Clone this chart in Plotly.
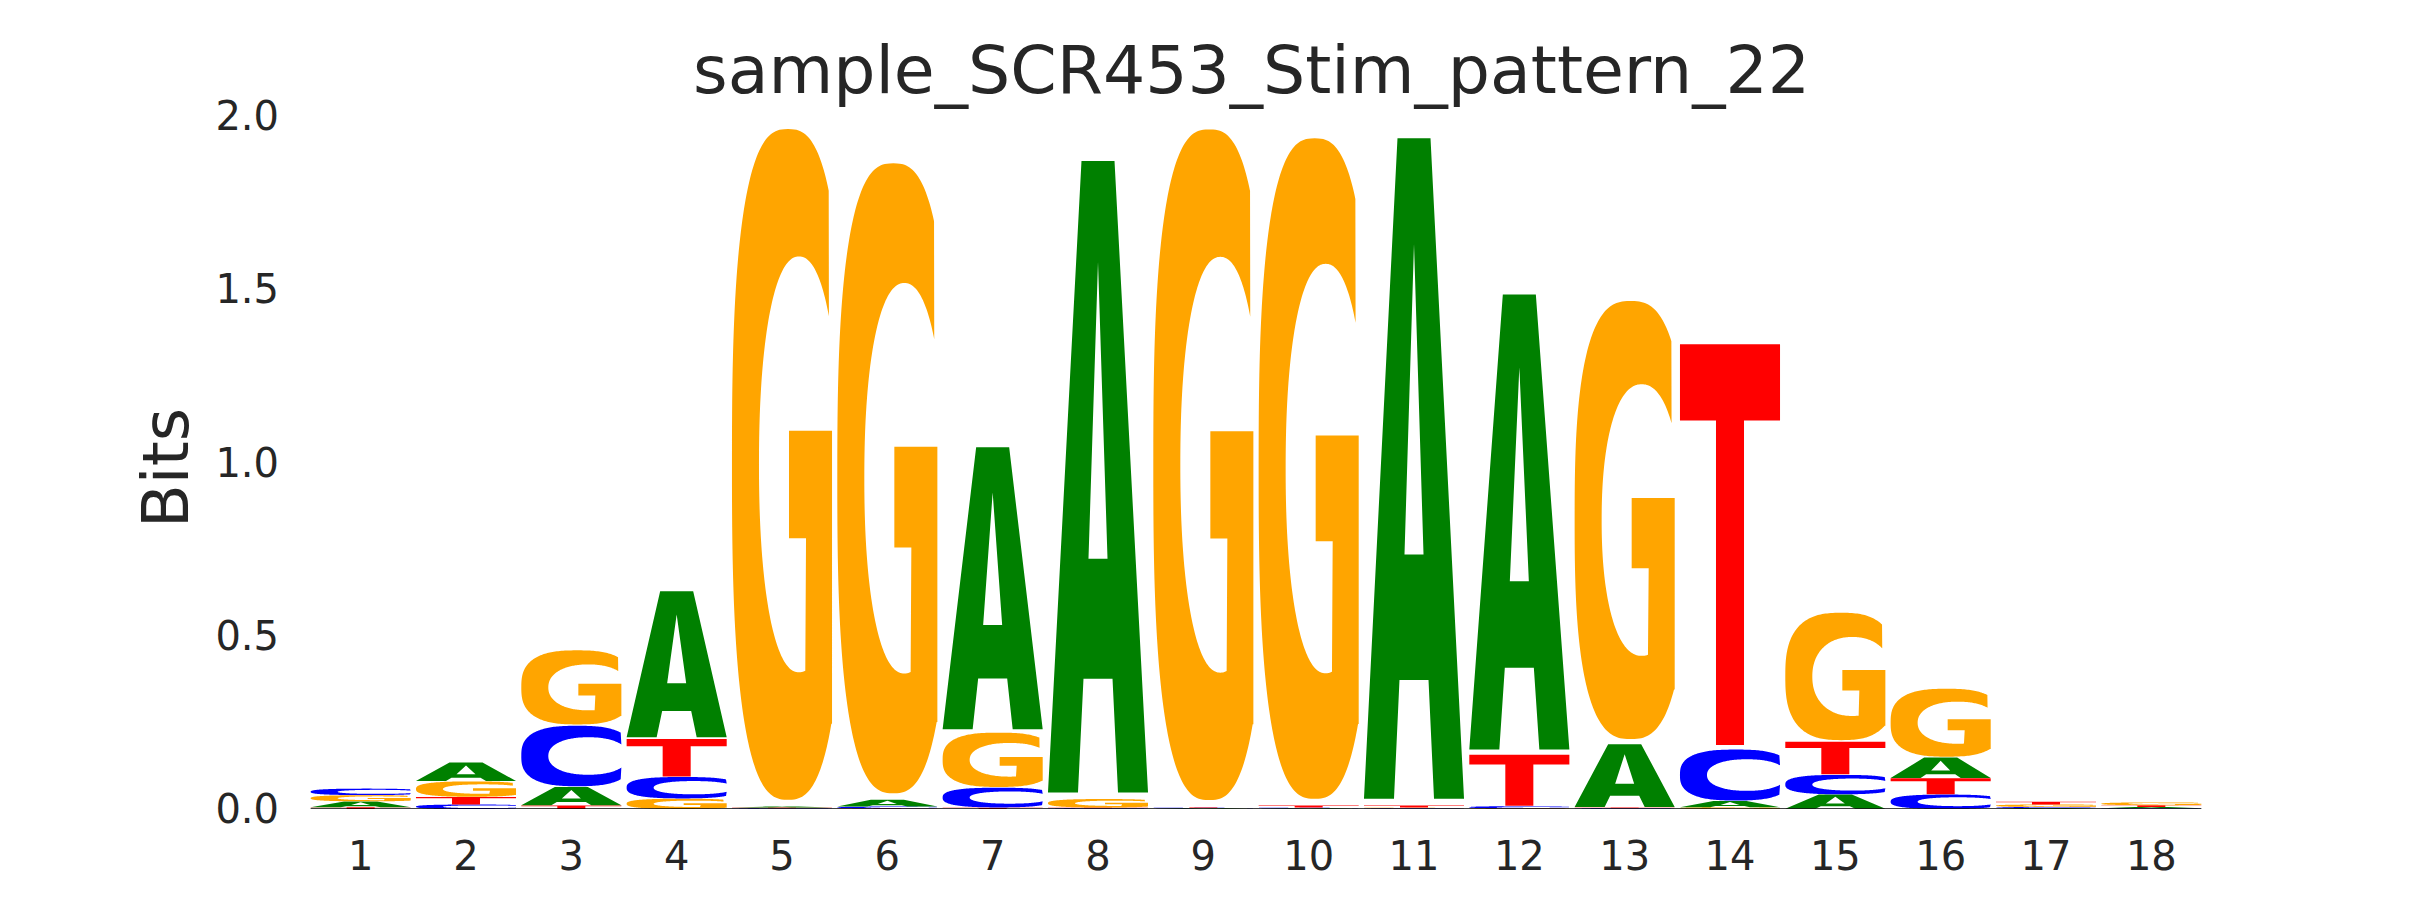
import numpy as np
import plotly.graph_objects as go

# ---------------- data (bits per letter at each position) ----------------
positions = list(range(1, 19))
tick_labels = [str(p) for p in positions]
A_bits = [0.017, 0.055, 0.054, 0.43, 0.003, 0.020, 0.83, 1.86, 0.002, 0.002,
          1.945, 1.34, 0.185, 0.018, 0.042, 0.060, 0.003, 0.004]
C_bits = [0.019, 0.013, 0.178, 0.063, 0.002, 0.005, 0.058, 0.002, 0.002, 0.002,
          0.002, 0.006, 0.002, 0.150, 0.057, 0.042, 0.003, 0.002]
G_bits = [0.018, 0.045, 0.218, 0.030, 1.975, 1.855, 0.160, 0.025, 1.975, 1.945,
          0.002, 0.002, 1.290, 0.005, 0.375, 0.200, 0.007, 0.008]
T_bits = [0.005, 0.022, 0.010, 0.110, 0.002, 0.002, 0.004, 0.002, 0.002, 0.006,
          0.006, 0.150, 0.002, 1.180, 0.096, 0.047, 0.008, 0.005]
y_ticks = [0.0, 0.5, 1.0, 1.5, 2.0]
y_tick_labels = ["0.0", "0.5", "1.0", "1.5", "2.0"]
title_text = "sample_SCR453_Stim_pattern_22"
y_label = "Bits"

letters = {"A": A_bits, "C": C_bits, "G": G_bits, "T": T_bits}
colors = {"A": "#008000", "C": "#0000FF", "G": "#FFA500", "T": "#FF0000"}
LETTER_WIDTH = 0.95
VPAD = 0.02
TEXT = "#262626"
FONT = "DejaVu Sans"


# ---------------- glyph outlines in a unit box ----------------
def superellipse(cx, cy, a, b, n, t):
    c, s = np.cos(t), np.sin(t)
    x = cx + a * np.sign(c) * np.abs(c) ** (2.0 / n)
    y = cy + b * np.sign(s) * np.abs(s) ** (2.0 / n)
    return x, y


ts = np.linspace(0, 2 * np.pi, 241)
OUTER = (0.56, 0.5, 0.56, 0.5, 2.7)
INNER = (0.67, 0.5, 0.40, 0.31, 2.2)


def glyph_C():
    ox, oy = superellipse(*OUTER, ts)
    ix, iy = superellipse(*INNER, ts)
    outer = [(x, y) for x, y in zip(ox, oy) if x <= 1.0]
    inner = [(x, y) for x, y in zip(ix, iy) if x <= 1.0]
    return [outer + inner[::-1]]


def glyph_G():
    ox, oy = superellipse(*OUTER, ts)
    ix, iy = superellipse(*INNER, ts)
    outer = [(x, y) for x, y in zip(ox, oy)
             if (y >= 0.5 and x <= 0.97) or (y < 0.5 and x <= 1.0)]
    yb = outer[-1][1]
    inner = [(x, y) for x, y in zip(ix, iy)
             if (y >= 0.5 and x <= 0.97) or (y < 0.5 and x <= 0.74)]
    pts = outer + [(1.0, yb), (1.0, 0.55), (0.57, 0.55), (0.57, 0.39),
                   (0.74, 0.39)] + inner[::-1]
    return [pts]


def glyph_A():
    outer = [(0, 0), (0.335, 1), (0.665, 1), (1, 0), (0.70, 0), (0.645, 0.18),
             (0.355, 0.18), (0.30, 0)]
    hole = [(0.405, 0.37), (0.595, 0.37), (0.5, 0.84)]
    return [outer, hole]


def glyph_T():
    return [[(0, 1), (1, 1), (1, 0.81), (0.64, 0.81), (0.64, 0), (0.36, 0),
             (0.36, 0.81), (0, 0.81)]]


glyphs = {"A": glyph_A(), "C": glyph_C(), "G": glyph_G(), "T": glyph_T()}


def glyph_path(letter, xc, y0, h):
    pad = VPAD * h / 2.0
    gy0, gh = y0 + pad, h - 2 * pad
    x0 = xc - LETTER_WIDTH / 2.0
    parts = []
    for poly in glyphs[letter]:
        seg = []
        for k, (ux, uy) in enumerate(poly):
            X = x0 + ux * LETTER_WIDTH
            Y = gy0 + uy * gh
            seg.append(("M" if k == 0 else "L") + f"{X:.5f},{Y:.6f}")
        parts.append(" ".join(seg) + " Z")
    return " ".join(parts)


fig = go.Figure()
fig.add_trace(go.Scatter(x=[positions[0], positions[-1]], y=[0, 0], mode="markers",
                         marker=dict(opacity=0), hoverinfo="skip", showlegend=False))

shapes = []
for i, pos in enumerate(positions):
    stack = sorted([(letters[L][i], L) for L in "ACGT"], key=lambda v: v[0])
    base = 0.0
    for val, L in stack:
        if val > 0:
            shapes.append(dict(type="path", xref="x", yref="y",
                               path=glyph_path(L, pos, base, val),
                               fillcolor=colors[L], line=dict(width=0),
                               layer="above"))
        base += val

# baseline spine
shapes.append(dict(type="line", xref="x", yref="y",
                   x0=positions[0] - LETTER_WIDTH / 2, x1=positions[-1] + LETTER_WIDTH / 2,
                   y0=0, y1=0, line=dict(color="black", width=1.6), layer="above"))

fig.update_layout(
    width=2430, height=900,
    margin=dict(l=300, r=234, t=108, b=99),
    paper_bgcolor="white", plot_bgcolor="white",
    shapes=shapes,
    showlegend=False,
    font=dict(family=FONT, color=TEXT),
    annotations=[
        dict(text=title_text, xref="paper", yref="paper", x=0.4975, y=1.066,
             xanchor="center", yanchor="middle", showarrow=False,
             font=dict(family=FONT, size=66.5, color=TEXT)),
        dict(text=y_label, xref="paper", yref="paper", x=-0.0749, y=0.492,
             xanchor="center", yanchor="middle", textangle=-90, showarrow=False,
             font=dict(family=FONT, size=64, color=TEXT)),
    ],
)
fig.update_xaxes(range=[0.5, 18.5], tickvals=positions, ticktext=tick_labels,
                 showgrid=False, zeroline=False, showline=False, ticks="",
                 tickfont=dict(family=FONT, size=40, color=TEXT),
                 ticklabelstandoff=20)
fig.update_yaxes(range=[0, 2.0], tickvals=y_ticks, ticktext=y_tick_labels,
                 showgrid=False, zeroline=False, showline=False, ticks="",
                 tickfont=dict(family=FONT, size=40, color=TEXT),
                 ticklabelstandoff=28)

fig.write_html("out.html")
